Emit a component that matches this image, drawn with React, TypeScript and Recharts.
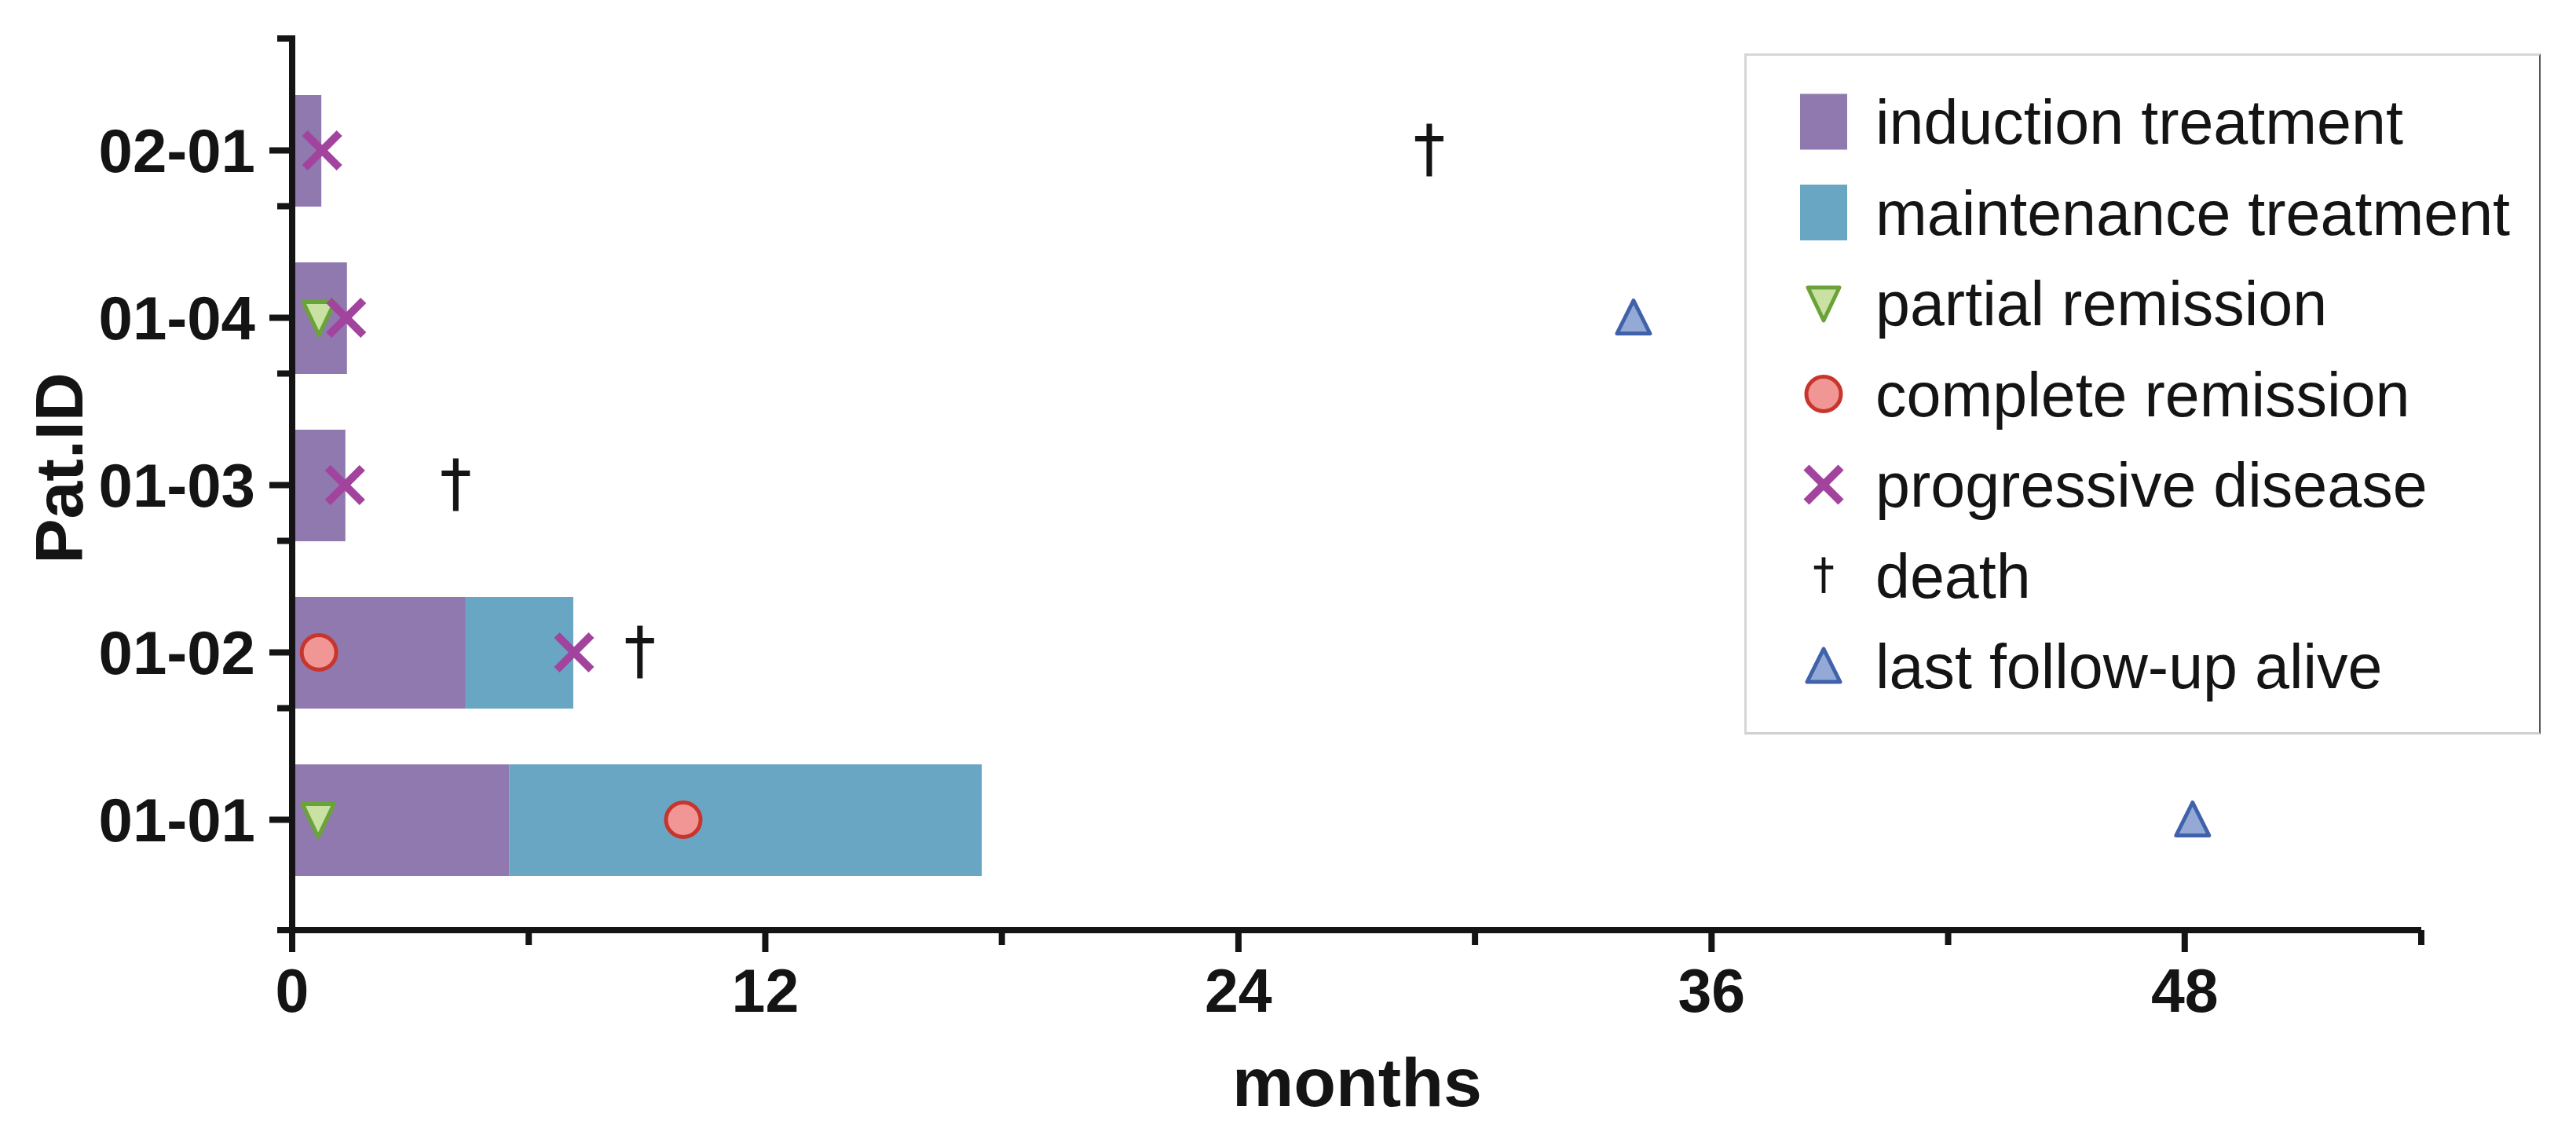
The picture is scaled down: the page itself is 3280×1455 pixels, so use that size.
import React from "react";
import { ComposedChart, Bar, Line, XAxis, YAxis, Legend } from "recharts";

// patients top to bottom, months from start of treatment
const patients = ["02-01", "01-04", "01-03", "01-02", "01-01"];
const induction = [0.74, 1.39, 1.35, 4.4, 5.51];
const maintenance = [0, 0, 0, 2.73, 11.98];
const partialRemission = [null, 0.68, null, null, 0.66];
const completeRemission = [null, null, null, 0.68, 9.92];
const progressiveDisease = [0.76, 1.37, 1.34, 7.15, null];
const death = [28.84, null, 4.15, 8.82, null];
const lastFollowUpAlive = [null, 34.02, null, null, 48.2];

const monthTicks = [0, 6, 12, 18, 24, 30, 36, 42, 48, 54];

const legendItems = [
  { key: "induction", label: "induction treatment" },
  { key: "maintenance", label: "maintenance treatment" },
  { key: "pr", label: "partial remission" },
  { key: "cr", label: "complete remission" },
  { key: "pd", label: "progressive disease" },
  { key: "death", label: "death" },
  { key: "alive", label: "last follow-up alive" },
];

const data = patients.map((id, i) => ({
  id,
  induction: induction[i],
  maintenance: maintenance[i],
  pr: partialRemission[i],
  cr: completeRemission[i],
  pd: progressiveDisease[i],
  death: death[i],
  alive: lastFollowUpAlive[i],
}));

const FONT = "'Liberation Sans', Arial, Helvetica, sans-serif";
const INK = "#141414";
const PURPLE = "#8f79ae";
const BLUE = "#68a6c4";
const PLOT_TOP = 45;

function Marker({ kind, cx, cy, s = 1 }: { kind: string; cx: number; cy: number; s?: number }) {
  if (kind === "induction" || kind === "maintenance") {
    return <rect x={cx - 30} y={cy - 35.5} width={60} height={71} fill={kind === "induction" ? PURPLE : BLUE} />;
  }
  if (kind === "pr") {
    return (
      <polygon
        points={`${cx - 20},${cy - 20} ${cx + 20},${cy - 20} ${cx},${cy + 22}`}
        fill="#c9e1a2"
        stroke="#6aa338"
        strokeWidth={5}
        strokeLinejoin="round"
      />
    );
  }
  if (kind === "cr") {
    return <circle cx={cx} cy={cy} r={22} fill="#f09694" stroke="#c8352d" strokeWidth={5} />;
  }
  if (kind === "pd") {
    return (
      <g stroke="#a2449e" strokeWidth={10}>
        <line x1={cx - 22} y1={cy - 22} x2={cx + 22} y2={cy + 22} />
        <line x1={cx - 22} y1={cy + 22} x2={cx + 22} y2={cy - 22} />
      </g>
    );
  }
  if (kind === "death") {
    return (
      <g stroke={INK} strokeWidth={7 * s}>
        <line x1={cx} y1={cy - 34 * s} x2={cx} y2={cy + 33 * s} />
        <line x1={cx - 18 * s} y1={cy - 15 * s} x2={cx + 18 * s} y2={cy - 15 * s} />
      </g>
    );
  }
  return (
    <polygon
      points={`${cx},${cy - 22} ${cx + 21},${cy + 20} ${cx - 21},${cy + 20}`}
      fill="#95a9d6"
      stroke="#3f62aa"
      strokeWidth={5}
      strokeLinejoin="round"
    />
  );
}

const eventDot = (kind: string) => (props: any) => {
  const { cx, cy, value, index } = props;
  if (value == null || cx == null || cy == null) return <g key={`${kind}-${index}`} />;
  return (
    <g key={`${kind}-${index}`}>
      <Marker kind={kind} cx={cx} cy={cy} />
    </g>
  );
};

function PatientTick(props: any) {
  const { x, y, payload, index } = props;
  return (
    <g>
      <line x1={x - 29} x2={x} y1={y} y2={y} stroke={INK} strokeWidth={8} />
      {index < patients.length - 1 && (
        <line x1={x - 19} x2={x} y1={y + 71} y2={y + 71} stroke={INK} strokeWidth={8} />
      )}
      {index === 0 && <line x1={x - 19} x2={x} y1={PLOT_TOP + 4} y2={PLOT_TOP + 4} stroke={INK} strokeWidth={8} />}
      <text x={x - 47} y={y + 27} textAnchor="end" fontSize={78} fontWeight="bold" fontFamily={FONT} fill={INK}>
        {payload.value}
      </text>
    </g>
  );
}

function MonthTick(props: any) {
  const { x, y, payload } = props;
  const major = payload.value % 12 === 0;
  return (
    <g>
      <line x1={x} x2={x} y1={y} y2={y + (major ? 28 : 19)} stroke={INK} strokeWidth={8} />
      {payload.value === 0 && <line x1={x - 19} x2={x} y1={y} y2={y} stroke={INK} strokeWidth={8} />}
      {major && (
        <text x={x} y={y + 104} textAnchor="middle" fontSize={77} fontWeight="bold" fontFamily={FONT} fill={INK}>
          {payload.value}
        </text>
      )}
    </g>
  );
}

function LegendBox() {
  return (
    <div
      style={{
        width: 1014,
        height: 867,
        boxSizing: "border-box",
        borderTop: "3px solid #d6d6d6",
        borderLeft: "3px solid #d6d6d6",
        borderBottom: "3px solid #d0d0d0",
        borderRight: "2px solid #555",
        background: "#fff",
      }}
    >
      <svg width={1009} height={861}>
        {legendItems.map((item, i) => {
          const cy = 84 + i * 115.5;
          return (
            <g key={item.key}>
              <Marker kind={item.key} cx={98} cy={cy} s={0.68} />
              <text x={164} y={cy + 28} fontSize={79} fontFamily={FONT} fill={INK}>
                {item.label}
              </text>
            </g>
          );
        })}
      </svg>
    </div>
  );
}

export default function App() {
  return (
    <div style={{ position: "absolute", left: 0, top: 0, background: "#fff" }}>
      <ComposedChart
        width={3280}
        height={1455}
        data={data}
        layout="vertical"
        margin={{ top: PLOT_TOP, right: 197, bottom: 0, left: 0 }}
      >
        <XAxis
          type="number"
          domain={[0, 54]}
          ticks={monthTicks}
          interval={0}
          height={271}
          axisLine={{ stroke: INK, strokeWidth: 8 }}
          tickLine={false}
          tickSize={0}
          tickMargin={0}
          tick={<MonthTick />}
          label={() => (
            <text x={1728} y={1408} textAnchor="middle" fontSize={88} fontWeight="bold" fontFamily={FONT} fill={INK}>
              months
            </text>
          )}
        />
        <YAxis
          type="category"
          dataKey="id"
          width={372}
          interval={0}
          padding={{ top: 40, bottom: 34 }}
          axisLine={{ stroke: INK, strokeWidth: 8 }}
          tickLine={false}
          tickSize={0}
          tickMargin={0}
          tick={<PatientTick />}
          label={() => (
            <text
              x={105}
              y={596}
              transform="rotate(-90 105 596)"
              textAnchor="middle"
              fontSize={86}
              fontWeight="bold"
              fontFamily={FONT}
              fill={INK}
            >
              Pat.ID
            </text>
          )}
        />
        <Legend
          layout="vertical"
          align="center"
          verticalAlign="middle"
          wrapperStyle={{ position: "absolute", left: 2221, top: 68, width: 1014, height: 867 }}
          content={() => <LegendBox />}
        />
        <Bar dataKey="induction" stackId="t" fill={PURPLE} barSize={142} isAnimationActive={false} />
        <Bar dataKey="maintenance" stackId="t" fill={BLUE} barSize={142} isAnimationActive={false} />
        {["pr", "cr", "pd", "death", "alive"].map((k) => (
          <Line
            key={k}
            dataKey={k}
            stroke="none"
            dot={eventDot(k)}
            activeDot={false}
            isAnimationActive={false}
          />
        ))}
      </ComposedChart>
    </div>
  );
}
